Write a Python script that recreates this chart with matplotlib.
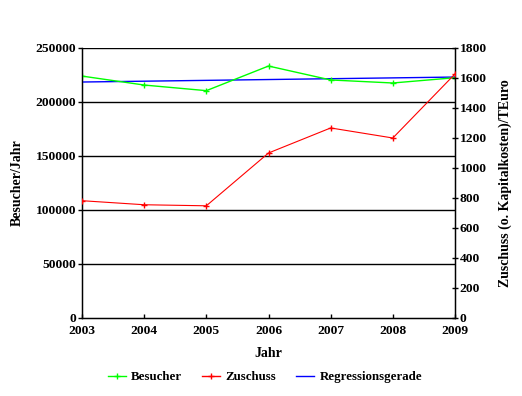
import matplotlib
matplotlib.use("Agg")
import matplotlib.pyplot as plt
from matplotlib.lines import Line2D

# data
jahre = [2003, 2004, 2005, 2006, 2007, 2008, 2009]
besucher = [224000, 215700, 210500, 233300, 220400, 217600, 222500]
zuschuss = [782, 755, 748, 1100, 1267, 1200, 1627]
regression_jahre = [2003, 2009]
regression_werte = [218500, 223100]

plt.rcParams['font.family'] = ['Liberation Serif', 'DejaVu Serif']
plt.rcParams['font.weight'] = 'bold'
plt.rcParams['font.size'] = 10

fig = plt.figure(figsize=(5.22, 3.96), dpi=100)
ax = fig.add_axes([82 / 522, 1 - 318 / 396, (455 - 82) / 522, (318 - 48) / 396])
ax2 = ax.twinx()

# horizontal grid lines on the left scale
for y in [50000, 100000, 150000, 200000, 250000]:
    ax.axhline(y, color='black', lw=1.0, zorder=1)

ax.plot(regression_jahre, regression_werte, color='#0000ff', lw=1.0, zorder=3)
ax.plot(jahre, besucher, color='#00ff00', lw=1.0, marker='+', ms=4, mew=1.0, zorder=3)
ax2.plot(jahre, zuschuss, color='#ff0000', lw=0.8, marker='+', ms=4, mew=1.0, zorder=3)

ax.set_xlim(2003, 2009)
ax.set_ylim(0, 250000)
ax2.set_ylim(0, 1800)
ax.set_xticks(jahre)
ax.set_yticks(range(0, 250001, 50000))
ax2.set_yticks(range(0, 1801, 200))

ax.spines['top'].set_visible(False)
ax2.spines['top'].set_visible(False)
ax.spines['left'].set_linewidth(1.0)
ax.spines['bottom'].set_linewidth(1.0)
ax2.spines['right'].set_linewidth(1.0)

ax.tick_params(axis='x', direction='in', length=3, width=1, pad=5, labelsize=9.7)
ax.tick_params(axis='y', direction='out', length=3, width=1, pad=1, labelsize=9.7)
ax2.tick_params(axis='y', direction='inout', length=5, width=1, pad=1, labelsize=9.7)
for lab in ax.get_xticklabels() + ax.get_yticklabels() + ax2.get_yticklabels():
    lab.set_fontweight('bold')

ax.set_xlabel('Jahr', fontweight='bold', labelpad=7)
ax.set_ylabel('Besucher/Jahr', fontweight='bold', labelpad=9)
ax2.set_ylabel('Zuschuss (o. Kapitalkosten)/TEuro', fontweight='bold', labelpad=8)

handles = [
    Line2D([], [], color='#00ff00', lw=1.0, marker='+', ms=4),
    Line2D([], [], color='#ff0000', lw=1.0, marker='+', ms=4),
    Line2D([], [], color='#0000ff', lw=1.0),
]
fig.legend(handles, ['Besucher', 'Zuschuss', 'Regressionsgerade'],
           loc='center', bbox_to_anchor=(265 / 522, 1 - 377 / 396), ncol=3,
           frameon=False, handlelength=1.4, handletextpad=0.4, columnspacing=1.55,
           prop={'weight': 'bold', 'size': 9.3})

fig.savefig('out.png', dpi=100)
